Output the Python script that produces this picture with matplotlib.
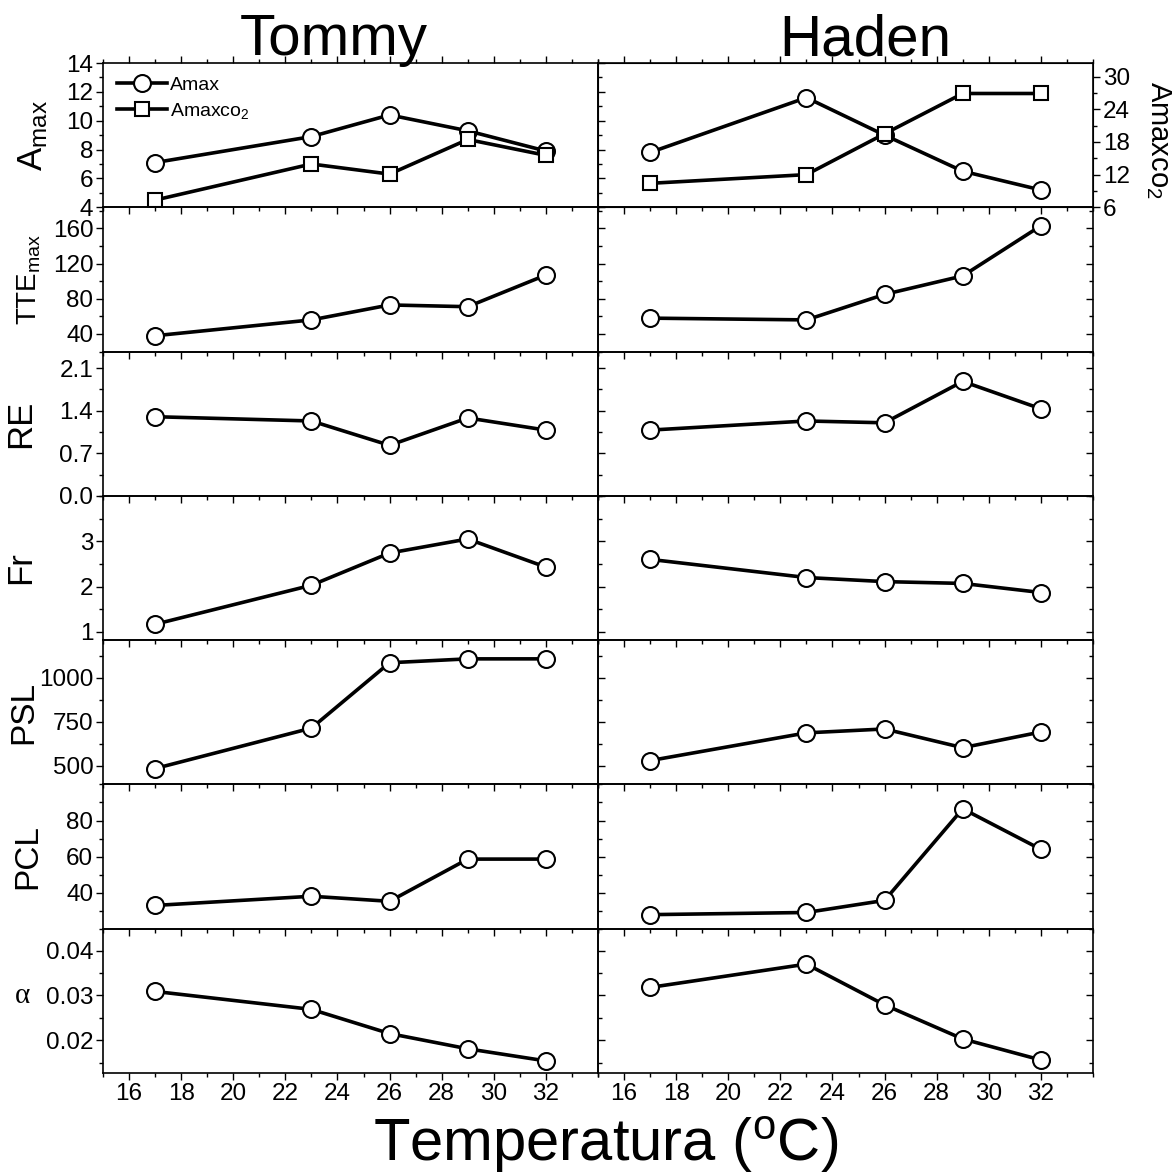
import matplotlib
matplotlib.use("Agg")
import matplotlib.pyplot as plt
from matplotlib.ticker import MultipleLocator, FormatStrFormatter

plt.rcParams['font.family'] = ['Liberation Sans', 'DejaVu Sans']
plt.rcParams['mathtext.fontset'] = 'custom'
plt.rcParams['mathtext.rm'] = 'Liberation Sans'
plt.rcParams['mathtext.it'] = 'Liberation Sans:italic'
plt.rcParams['mathtext.bf'] = 'Liberation Sans:bold'

temp = [17, 23, 26, 29, 32]
xticks = [16, 18, 20, 22, 24, 26, 28, 30, 32]

# Tommy
amax_tommy = [7.1, 8.9, 10.4, 9.3, 7.9]
amaxco2_tommy = [4.5, 7.0, 6.3, 8.7, 7.6]
tte_tommy = [38, 56, 73, 71, 107]
re_tommy = [1.30, 1.23, 0.83, 1.28, 1.08]
fr_tommy = [1.17, 2.03, 2.74, 3.05, 2.43]
psl_tommy = [485, 714, 1084, 1106, 1106]
pcl_tommy = [32.9, 38.0, 35.2, 58.6, 58.6]
alpha_tommy = [0.0309, 0.0269, 0.0215, 0.0181, 0.0154]

# Haden
amax_haden = [7.8, 11.6, 9.0, 6.5, 5.2]
amaxco2_haden = [10.4, 12.0, 19.5, 26.9, 26.9]
tte_haden = [58, 56, 85, 106, 163]
re_haden = [1.08, 1.23, 1.20, 1.88, 1.43]
fr_haden = [2.60, 2.20, 2.11, 2.07, 1.87]
psl_haden = [530, 687, 709, 603, 692]
pcl_haden = [27.8, 29.0, 35.7, 86.5, 64.0]
alpha_haden = [0.0318, 0.0370, 0.0279, 0.0203, 0.0156]

# y tick values shown in each row
amax_ticks = [4, 6, 8, 10, 12, 14]
tte_ticks = [40, 80, 120, 160]
re_ticks = [0.0, 0.7, 1.4, 2.1]
fr_ticks = [1, 2, 3]
psl_ticks = [500, 750, 1000]
pcl_ticks = [40, 60, 80]
alpha_ticks = [0.02, 0.03, 0.04]
co2_ticks = [6, 12, 18, 24, 30]

# (label, ylim, ticks, minor, fmt, label x, fontsize, tommy, haden)
rows = [
    ("A$_{\\mathrm{max}}$", (4, 14), amax_ticks, 1, "%d", -0.107, 25, amax_tommy, amax_haden),
    ("TTE$_{\\mathrm{max}}$", (20, 184), tte_ticks, 20, "%d", -0.121, 20, tte_tommy, tte_haden),
    ("RE", (0, 2.37), re_ticks, 0.35, "%.1f", -0.134, 25, re_tommy, re_haden),
    ("Fr", (0.82, 4.0), fr_ticks, 0.5, "%d", -0.134, 25, fr_tommy, fr_haden),
    ("PSL", (395, 1212), psl_ticks, 125, "%d", -0.128, 24, psl_tommy, psl_haden),
    ("PCL", (20, 100), pcl_ticks, 10, "%d", -0.121, 24, pcl_tommy, pcl_haden),
    (None, (0.0127, 0.0449), alpha_ticks, 0.005, "%.2f", None, 20, alpha_tommy, alpha_haden),
]

line_kw = dict(color="black", lw=2.6, marker="o", ms=12.2, mfc="white",
               mec="black", mew=1.5)
sq_kw = dict(color="black", lw=2.6, marker="s", ms=9.7, mfc="white",
             mec="black", mew=1.5)

fig, axes = plt.subplots(nrows=7, ncols=2, figsize=(11.75, 11.74), dpi=100,
                         sharex=True)
fig.subplots_adjust(left=103 / 1175, right=1093 / 1175, top=1 - 63 / 1174,
                    bottom=1 - 1073 / 1174, hspace=0, wspace=0)

for i, (label, ylim, ticks, minor, fmt, lx, fs, yt, yh) in enumerate(rows):
    axl = axes[i][0]
    axr = axes[i][1]
    for ax in (axl, axr):
        ax.set_facecolor("none")
        ax.set_xlim(15, 34)
        ax.set_ylim(*ylim)
        ax.set_xticks(xticks)
        ax.xaxis.set_minor_locator(MultipleLocator(1))
        ax.set_yticks(ticks)
        ax.yaxis.set_minor_locator(MultipleLocator(minor))
        ax.yaxis.set_major_formatter(FormatStrFormatter(fmt))
        ax.tick_params(which="major", length=5, width=1, labelsize=17.5, pad=2)
        ax.tick_params(which="minor", length=3, width=1)
        ax.tick_params(axis="x", which="both", direction="out", bottom=True,
                       top=(i == 0))
        for sp in ax.spines.values():
            sp.set_linewidth(1.2)
    axl.tick_params(axis="y", which="both", direction="out", left=True)
    axr.tick_params(axis="y", which="both", direction="in", left=True,
                    right=True, labelleft=False)
    if i < len(rows) - 1:
        axl.tick_params(axis="x", labelbottom=False)
        axr.tick_params(axis="x", labelbottom=False)

    axl.plot(temp, yt, **line_kw)
    axr.plot(temp, yh, **line_kw)

    if label is not None:
        axl.set_ylabel(label, fontsize=fs)
        axl.yaxis.set_label_coords(lx, 0.5)

# alpha label sits upright next to the 0.03 tick
fig.text(22 / 1175, 1 - 996 / 1174, "α", fontsize=21,
         family=["Liberation Serif", "DejaVu Serif"], ha="center", va="center")

# top row: CO2-limited curve
ax0 = axes[0][0]
h1, = ax0.plot([], [], **line_kw)
h2, = ax0.plot(temp, amaxco2_tommy, **sq_kw)
ax0.legend([h1, h2], ["Amax", "Amaxco$_2$"], loc="upper left", frameon=False,
           fontsize=14, handlelength=2.6, handletextpad=0.15,
           labelspacing=0.35, borderaxespad=0.5, borderpad=0.2)

ax_tw = axes[0][1].twinx()
ax_tw.set_ylim(6, 32.5)
ax_tw.set_yticks(co2_ticks)
ax_tw.yaxis.set_minor_locator(MultipleLocator(3))
ax_tw.tick_params(which="major", length=5, width=1, labelsize=17.5, pad=2,
                  direction="out")
ax_tw.tick_params(which="minor", length=3, width=1, direction="out")
ax_tw.plot(temp, amaxco2_haden, **sq_kw)
axes[0][1].tick_params(axis="y", which="both", right=False)
fig.text(1158 / 1175, 1 - 140 / 1174, "Amaxco$_2$", rotation=270, fontsize=21,
         ha="center", va="center")

fig.text(334 / 1175, 1 - 55 / 1174, "Tommy", fontsize=42, ha="center",
         va="baseline")
fig.text(865 / 1175, 1 - 55 / 1174, "Haden", fontsize=42, ha="center",
         va="baseline")
fig.text(606 / 1175, 1 - 1161 / 1174, "Temperatura ($^{\\mathrm{o}}$C)",
         fontsize=43, ha="center", va="baseline")

fig.savefig("out.png", dpi=100, facecolor="white")
